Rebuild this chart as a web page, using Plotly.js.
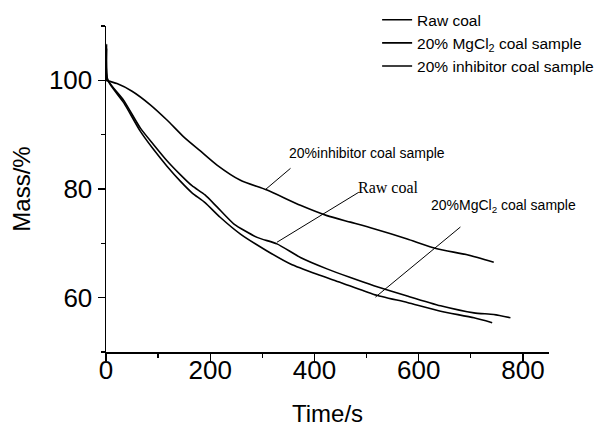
<!DOCTYPE html>
<html>
<head>
<meta charset="utf-8">
<script src="https://cdn.plot.ly/plotly-3.0.1.min.js"></script>
<style>
  html, body { margin: 0; padding: 0; background: #fff; }
  #chart { width: 601px; height: 427px; }
</style>
</head>
<body>
<div id="chart"></div>
<script>
// ---- Data ----
const seriesNames = ["Raw coal", "20% MgCl<sub>2</sub> coal sample", "20% inhibitor coal sample"];

const rawTime = [0, 1, 3, 34, 66, 91, 117, 143, 165, 190, 213, 245, 290, 328, 373, 424, 469, 514, 578, 642, 706, 744, 776];
const rawMass = [100, 106.6, 100.2, 96.3, 91.2, 88.2, 85.2, 82.6, 80.6, 78.9, 76.7, 73.6, 71.1, 69.9, 67.4, 65.3, 63.7, 62.2, 60.3, 58.5, 57.2, 56.9, 56.3];

const mgTime = [0, 1, 3, 34, 66, 91, 117, 143, 165, 190, 219, 258, 309, 354, 405, 450, 514, 578, 642, 706, 741];
const mgMass = [100, 105.8, 100.1, 95.9, 90.6, 87.3, 84.2, 81.4, 79.3, 77.5, 74.8, 71.7, 68.6, 66.2, 64.3, 62.8, 60.6, 59.1, 57.5, 56.3, 55.4];

const inhTime = [0, 21, 50, 85, 117, 149, 181, 213, 258, 309, 373, 424, 469, 514, 578, 635, 693, 744];
const inhMass = [100, 99.4, 98.0, 95.5, 92.7, 89.6, 87.0, 84.4, 81.6, 79.8, 77.0, 75.1, 73.9, 72.7, 70.8, 69.0, 67.9, 66.5];

const xTickVals = [0, 200, 400, 600, 800];
const yTickVals = [60, 80, 100];

// Curve labels in the plot, with their leader lines
const labelTexts = ["20%inhibitor coal sample", "Raw coal", "20%MgCl<sub>2</sub> coal sample"];
const labelX = [347, 480, 620];
const labelY = [86.6, 80.2, 76.8];
const leaderHeadX = [306, 328, 517];
const leaderHeadY = [79.9, 70.2, 60.1];
const leaderTailX = [354, 485, 680];
const leaderTailY = [83.8, 79.4, 73.0];

// ---- Chart ----
const sans = "'Liberation Sans', Arial, sans-serif";
const lineStyle = { color: "#000", width: 1.6, shape: "spline", smoothing: 0.6 };

const traces = [
  { x: rawTime, y: rawMass, name: seriesNames[0], mode: "lines", line: lineStyle },
  { x: mgTime, y: mgMass, name: seriesNames[1], mode: "lines", line: lineStyle },
  { x: inhTime, y: inhMass, name: seriesNames[2], mode: "lines", line: lineStyle }
];

const labelFonts = [
  { family: sans, size: 14, color: "#000" },
  { family: "'Liberation Serif', 'Times New Roman', serif", size: 16, color: "#000" },
  { family: sans, size: 14, color: "#000" }
];

const annotations = [];
const shapes = [];
for (let i = 0; i < labelTexts.length; i++) {
  annotations.push({
    x: labelX[i], y: labelY[i], xref: "x", yref: "y",
    text: labelTexts[i], showarrow: false,
    xanchor: "left", yanchor: "middle",
    font: labelFonts[i]
  });
  shapes.push({
    type: "line", xref: "x", yref: "y",
    x0: leaderHeadX[i], y0: leaderHeadY[i], x1: leaderTailX[i], y1: leaderTailY[i],
    line: { color: "#000", width: 1 }
  });
}

const layout = {
  width: 601, height: 427,
  margin: { l: 106, r: 52, t: 26, b: 75, autoexpand: false },
  paper_bgcolor: "#fff", plot_bgcolor: "#fff",
  showlegend: true,
  legend: {
    x: 0.612, y: 1.07, xanchor: "left", yanchor: "top",
    bgcolor: "rgba(0,0,0,0)",
    font: { family: sans, size: 15.5, color: "#000" },
    tracegroupgap: 0
  },
  xaxis: {
    range: [0, 850],
    tickvals: xTickVals,
    ticks: "outside", ticklen: 7, tickwidth: 1.3, tickcolor: "#000",
    minor: { dtick: 100, tick0: 0, ticks: "outside", ticklen: 4, tickwidth: 1.3, tickcolor: "#000" },
    showline: true, linecolor: "#000", linewidth: 1.5,
    showgrid: false, zeroline: false,
    tickfont: { family: sans, size: 26, color: "#000" },
    ticklabelstandoff: -13,
    title: { text: "Time/s", font: { family: sans, size: 24, color: "#000" }, standoff: 36 }
  },
  yaxis: {
    range: [50, 110],
    tickvals: yTickVals,
    ticks: "outside", ticklen: 7, tickwidth: 1.3, tickcolor: "#000",
    minor: { dtick: 10, tick0: 0, ticks: "outside", ticklen: 4, tickwidth: 1.3, tickcolor: "#000" },
    showline: true, linecolor: "#000", linewidth: 1.5,
    showgrid: false, zeroline: false,
    tickfont: { family: sans, size: 26, color: "#000" },
    title: { text: "Mass/%", font: { family: sans, size: 24, color: "#000" }, standoff: 11 }
  },
  annotations: annotations,
  shapes: shapes
};

Plotly.newPlot("chart", traces, layout, { displayModeBar: false, staticPlot: true });
</script>
</body>
</html>
